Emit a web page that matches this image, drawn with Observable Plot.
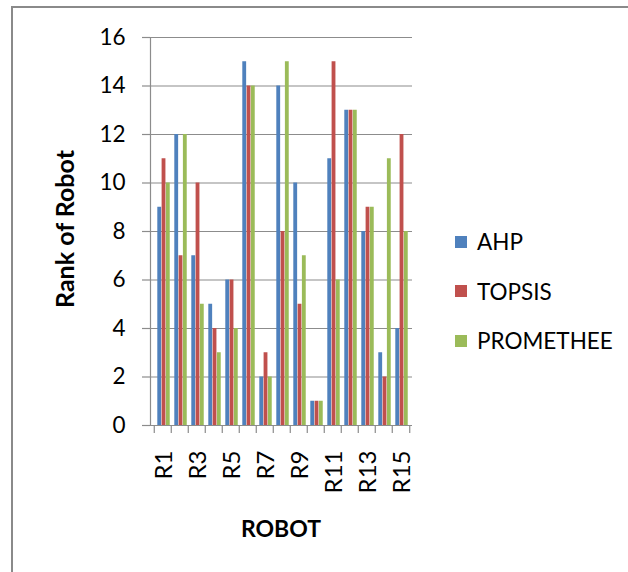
<!DOCTYPE html>
<html>
<head>
<meta charset="utf-8">
<script src="https://cdn.jsdelivr.net/npm/d3@7"></script>
<script src="https://cdn.jsdelivr.net/npm/@observablehq/plot@0.6"></script>
<style>
  html, body { margin: 0; padding: 0; background: #fff; }
  #wrap { position: relative; width: 628px; height: 572px; overflow: hidden; font-family: Lato, "Liberation Sans", sans-serif; }
  #border { position: absolute; left: 11px; top: 6px; right: -10px; bottom: -10px; border-left: 2px solid #8a8a8a; border-top: 2px solid #8a8a8a; }
  #chart { position: absolute; left: 0; top: 0; }
  .lbl { position: absolute; font-weight: bold; color: #000; white-space: nowrap; }
  #legend { position: absolute; left: 455px; top: 229px; font-size: 22.5px; color: #000; }
  #legend .item { display: flex; align-items: center; height: 25px; margin-bottom: 24.5px; }
  #legend .sw { width: 12px; height: 12px; margin-right: 10px; }
</style>
</head>
<body>
<div id="wrap">
  <div id="border"></div>
  <div id="chart"></div>
  <div class="lbl" id="xlab" style="left:281px; top:528px; font-size:23px; transform: translate(-50%,-50%);">ROBOT</div>
  <div class="lbl" id="ylab" style="left:64px; top:229px; font-size:25px; transform: translate(-50%,-50%) rotate(-90deg);">Rank of Robot</div>
  <div id="legend"></div>
</div>
<script>
const robots = ["R1","R2","R3","R4","R5","R6","R7","R8","R9","R10","R11","R12","R13","R14","R15"];
const methods = ["AHP","TOPSIS","PROMETHEE"];
const colors = ["#4F81BD","#C0504D","#9BBB59"];
const ahp       = [9, 12, 7, 5, 6, 15, 2, 14, 10, 1, 11, 13, 8, 3, 4];
const topsis    = [11, 7, 10, 4, 6, 14, 3, 8, 5, 1, 15, 13, 9, 2, 12];
const promethee = [10, 12, 5, 3, 4, 14, 2, 15, 7, 1, 6, 13, 9, 11, 8];
const yTicks = [0, 2, 4, 6, 8, 10, 12, 14, 16];
const xLabels = ["R1","R3","R5","R7","R9","R11","R13","R15"];

const series = [ahp, topsis, promethee];
const data = [];
methods.forEach((m, i) => robots.forEach((r, j) => data.push({robot: r, method: m, value: series[i][j]})));

const W = 628, H = 572, mL = 150, mR = 216, mT = 37, mB = 147;
const bw = (W - mL - mR) / robots.length;
const barW = 4.3, off0 = 3.3;
const grid = "#8c8c8c";
const font = "Lato, 'Liberation Sans', sans-serif";

const bars = methods.map((m, i) => Plot.barY(data.filter(d => d.method === m), {
  x: "robot", y: "value", fill: colors[i],
  insetLeft: off0 + i * barW,
  insetRight: bw - off0 - (i + 1) * barW
}));

const chart = Plot.plot({
  width: W, height: H,
  marginLeft: mL, marginRight: mR, marginTop: mT, marginBottom: mB,
  style: {fontFamily: font, color: "#000", background: "transparent", overflow: "visible"},
  x: {type: "band", domain: robots, padding: 0, axis: null},
  y: {domain: [0, 16], axis: null},
  marks: [
    Plot.gridY(yTicks, {stroke: grid, strokeOpacity: 1, strokeWidth: 1.2}),
    ...bars,
    Plot.axisY(yTicks, {tickSize: 8, tickPadding: 17, stroke: grid, strokeWidth: 1.2, fontSize: 22.5, label: null}),
    Plot.ruleY([0], {stroke: grid, strokeWidth: 1.2}),
    Plot.frame({anchor: "left", stroke: grid, strokeWidth: 1.2}),
    Plot.axisX(robots, {tickSize: 8, text: null, dx: -bw / 2, stroke: grid, strokeWidth: 1.2, label: null}),
    Plot.axisX(["R15"], {tickSize: 8, text: null, dx: bw / 2, stroke: grid, strokeWidth: 1.2, label: null}),
    Plot.axisX(xLabels, {tickSize: 0, tickPadding: 25, tickRotate: -90, fontSize: 24, dx: 1, label: null})
  ]
});
document.getElementById("chart").appendChild(chart);

const legend = document.getElementById("legend");
methods.forEach((m, i) => {
  const it = document.createElement("div");
  it.className = "item";
  it.innerHTML = `<span class="sw" style="background:${colors[i]}"></span><span>${m}</span>`;
  legend.appendChild(it);
});
</script>
</body>
</html>
